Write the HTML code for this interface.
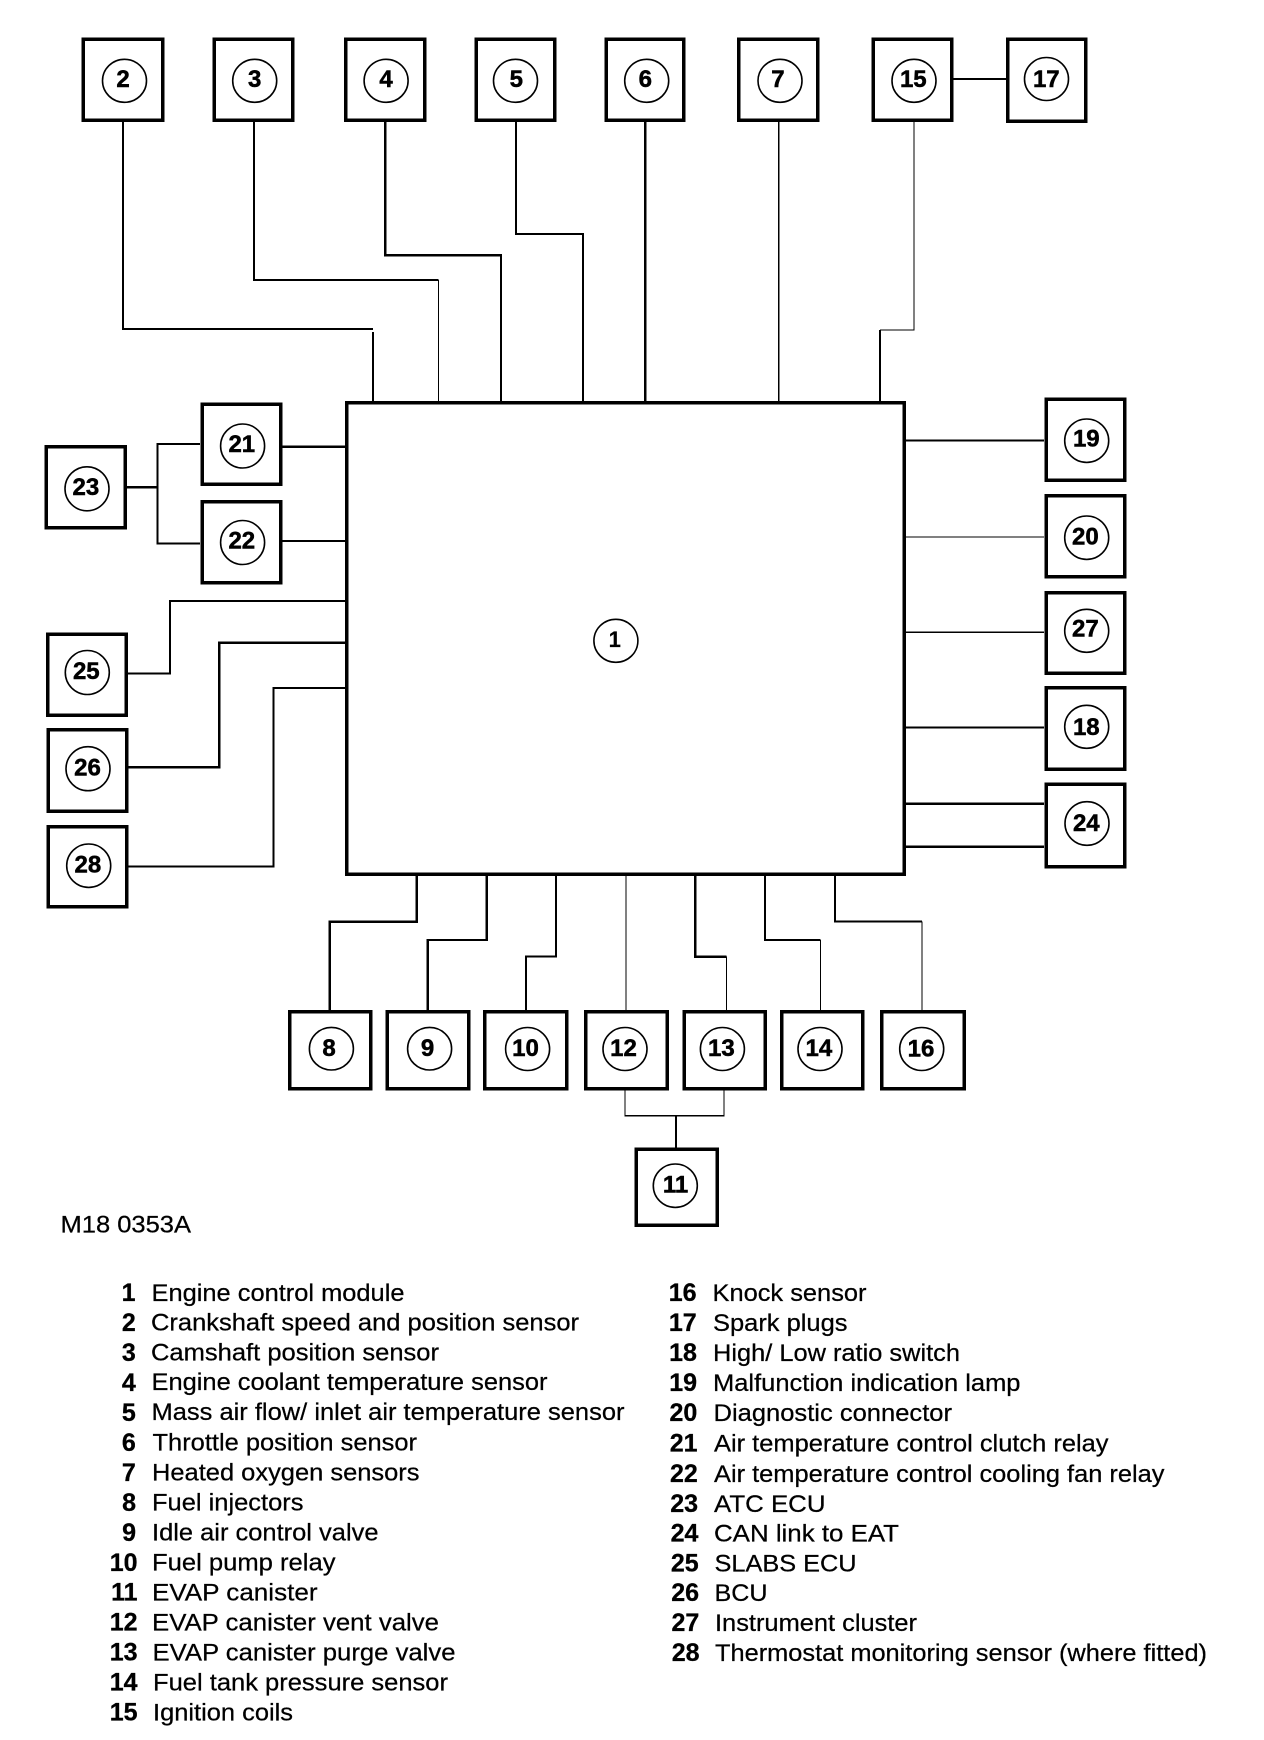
<!DOCTYPE html>
<html>
<head>
<meta charset="utf-8">
<style>
html,body{margin:0;padding:0;background:#fff}
svg{display:block}
.b{fill:#fff;stroke:#000;stroke-width:3.5;shape-rendering:crispEdges}
.c{fill:#fff;stroke:#000;stroke-width:1.6}
.l{fill:none;stroke:#000;stroke-width:2;shape-rendering:crispEdges}
.t{fill:none;stroke:#000;stroke-width:1.3;shape-rendering:crispEdges}
.h{fill:none;stroke:#000;stroke-width:2.4;shape-rendering:crispEdges}
.n{font:bold 24px "Liberation Sans",sans-serif;text-anchor:middle;fill:#000;stroke:#000;stroke-width:.5}
.k{font:bold 25px "Liberation Sans",sans-serif;text-anchor:end;fill:#000;stroke:#000;stroke-width:.3}
.d{font:24px "Liberation Sans",sans-serif;fill:#000;stroke:#000;stroke-width:.25}
</style>
</head>
<body>
<svg width="1264" height="1740" viewBox="0 0 1264 1740" xmlns="http://www.w3.org/2000/svg">
<rect width="1264" height="1740" fill="#fff"/>

<!-- connectors -->
<polyline class="l" points="123,121 123,329 373,329"/>
<polyline class="l" points="373,332 373,402"/>
<polyline class="l" points="254,121 254,280 438.5,280"/>
<polyline class="t" points="438.5,280 438.5,402"/>
<polyline class="h" points="385.3,121 385.3,255.3 501,255.3 501,402"/>
<polyline class="l" points="516,121 516,234 583.2,234 583.2,402"/>
<polyline class="h" points="645.3,121 645.3,402"/>
<polyline class="t" points="778.7,121 778.7,402"/>
<polyline class="t" points="914,121 914,330 880,330"/>
<polyline class="l" points="880,330 880,402"/>
<polyline class="l" points="953,79 1006,79"/>

<polyline class="l" points="200,444 157.6,444 157.6,543.7 200,543.7"/>
<polyline class="h" points="127,487.3 157.6,487.3"/>
<polyline class="h" points="282,446.7 346,446.7"/>
<polyline class="l" points="282,541 346,541"/>
<polyline class="l" points="127.5,673.3 170,673.3 170,601 346,601"/>
<polyline class="h" points="128,767.3 219.3,767.3 219.3,642.7 346,642.7"/>
<polyline class="l" points="128,866.7 273.7,866.7 273.7,688 346,688"/>

<polyline class="l" points="905,440.7 1044,440.7"/>
<polyline class="t" points="905,537 1044,537"/>
<polyline class="t" points="905,632.3 1044,632.3"/>
<polyline class="l" points="905,727.7 1044,727.7"/>
<polyline class="h" points="905,803.7 1044,803.7"/>
<polyline class="h" points="905,846.7 1044,846.7"/>

<polyline class="h" points="416.8,875 416.8,921.7 329.6,921.7 329.6,1011"/>
<polyline class="h" points="486.7,875 486.7,940 427.6,940 427.6,1011"/>
<polyline class="l" points="556,875 556,956.7 526,956.7 526,1011"/>
<polyline class="t" points="626,875 626,1011"/>
<polyline class="h" points="695.4,875 695.4,956.7 726.5,956.7"/>
<polyline class="t" points="726.5,956.7 726.5,1011"/>
<polyline class="l" points="764.8,875 764.8,940 820.4,940"/>
<polyline class="t" points="820.4,940 820.4,1011"/>
<polyline class="l" points="835.2,875 835.2,921.7 922,921.7"/>
<polyline class="t" points="922,921.7 922,1011"/>
<polyline class="t" points="625,1090 625,1115.7 724,1115.7 724,1090"/>
<polyline class="l" points="676,1115.7 676,1148"/>

<!-- main box -->
<rect class="b" x="346.8" y="402.7" width="557.4" height="471.5" style="fill:none"/>
<ellipse class="c" cx="615.9" cy="640.8" rx="22" ry="21.5"/>
<text class="n" x="614.7" y="647" style="font-size:22px;stroke-width:.2">1</text>

<!-- top row -->
<rect class="b" x="83.1" y="39" width="79.6" height="81"/>
<ellipse class="c" cx="124.5" cy="80.8" rx="22" ry="21.5"/>
<text class="n" x="123" y="87">2</text>
<rect class="b" x="214.1" y="39" width="78.8" height="81"/>
<ellipse class="c" cx="254.7" cy="80.8" rx="22" ry="21.5"/>
<text class="n" x="254.7" y="87">3</text>
<rect class="b" x="345.5" y="39" width="79.2" height="81"/>
<ellipse class="c" cx="386.1" cy="80.8" rx="22" ry="21.5"/>
<text class="n" x="386.1" y="87">4</text>
<rect class="b" x="476.1" y="39" width="78.8" height="81"/>
<ellipse class="c" cx="515.5" cy="80.8" rx="22" ry="21.5"/>
<text class="n" x="516.3" y="87">5</text>
<rect class="b" x="606.3" y="39" width="77.6" height="81"/>
<ellipse class="c" cx="646.7" cy="80.8" rx="22" ry="21.5"/>
<text class="n" x="645.3" y="87">6</text>
<rect class="b" x="738.5" y="39" width="79.2" height="81"/>
<ellipse class="c" cx="780" cy="80.8" rx="22" ry="21.5"/>
<text class="n" x="777.9" y="87">7</text>
<rect class="b" x="873.1" y="39" width="78.8" height="81"/>
<ellipse class="c" cx="914" cy="80.8" rx="22" ry="21.5"/>
<text class="n" x="913.3" y="87">15</text>
<rect class="b" x="1007.7" y="39" width="78.1" height="82"/>
<ellipse class="c" cx="1046.5" cy="79" rx="22" ry="21.5"/>
<text class="n" x="1046.3" y="87">17</text>

<!-- left -->
<rect class="b" x="202" y="404" width="78.8" height="80.3"/>
<ellipse class="c" cx="242.6" cy="446" rx="22" ry="22"/>
<text class="n" x="241.8" y="452">21</text>
<rect class="b" x="202" y="501.7" width="78.8" height="80.9"/>
<ellipse class="c" cx="242.6" cy="542.5" rx="22" ry="22"/>
<text class="n" x="241.8" y="548.7">22</text>
<rect class="b" x="46" y="446.7" width="79.3" height="80.9"/>
<ellipse class="c" cx="87" cy="488.8" rx="22" ry="22"/>
<text class="n" x="85.9" y="495">23</text>
<rect class="b" x="47.7" y="634" width="78.4" height="81"/>
<ellipse class="c" cx="87.3" cy="672.5" rx="22" ry="22"/>
<text class="n" x="86.3" y="679">25</text>
<rect class="b" x="48.1" y="729.7" width="78.8" height="81.3"/>
<ellipse class="c" cx="88" cy="768.7" rx="22" ry="22"/>
<text class="n" x="87.5" y="775.7">26</text>
<rect class="b" x="48.1" y="826.7" width="78.8" height="80"/>
<ellipse class="c" cx="88.7" cy="865.7" rx="22" ry="21.7"/>
<text class="n" x="87.9" y="872.7">28</text>

<!-- right -->
<rect class="b" x="1046" y="399" width="78.9" height="81.3"/>
<ellipse class="c" cx="1086.7" cy="440.7" rx="22" ry="21.7"/>
<text class="n" x="1086.3" y="446.7">19</text>
<rect class="b" x="1046" y="495.7" width="78.9" height="80.9"/>
<ellipse class="c" cx="1086.7" cy="537.7" rx="22" ry="21.7"/>
<text class="n" x="1085.4" y="544.7">20</text>
<rect class="b" x="1046" y="592.7" width="78.9" height="80.3"/>
<ellipse class="c" cx="1086.7" cy="630.8" rx="22" ry="21.5"/>
<text class="n" x="1085.4" y="636.7">27</text>
<rect class="b" x="1046" y="687.7" width="78.9" height="81.3"/>
<ellipse class="c" cx="1086.7" cy="726.8" rx="22" ry="21.5"/>
<text class="n" x="1086.3" y="735">18</text>
<rect class="b" x="1046" y="784.4" width="78.9" height="82.2"/>
<ellipse class="c" cx="1087" cy="823.5" rx="22" ry="21.8"/>
<text class="n" x="1086.3" y="831">24</text>

<!-- bottom -->
<rect class="b" x="289.5" y="1011.7" width="81.2" height="76.9"/>
<ellipse class="c" cx="331.4" cy="1048.7" rx="22" ry="21.3"/>
<text class="n" x="329" y="1056">8</text>
<rect class="b" x="387.4" y="1011.7" width="81.3" height="76.9"/>
<ellipse class="c" cx="429.6" cy="1048.7" rx="22" ry="21.3"/>
<text class="n" x="427.5" y="1056">9</text>
<rect class="b" x="484.9" y="1011.7" width="81.8" height="76.9"/>
<ellipse class="c" cx="527.6" cy="1049" rx="22" ry="21.5"/>
<text class="n" x="525.5" y="1056">10</text>
<rect class="b" x="585.9" y="1011.7" width="81.3" height="76.9"/>
<ellipse class="c" cx="625" cy="1049" rx="22" ry="21.5"/>
<text class="n" x="623.5" y="1056">12</text>
<rect class="b" x="684.4" y="1011.7" width="80.7" height="76.9"/>
<ellipse class="c" cx="722.4" cy="1049" rx="22" ry="21.5"/>
<text class="n" x="721.4" y="1056">13</text>
<rect class="b" x="781.7" y="1011.7" width="80.9" height="76.9"/>
<ellipse class="c" cx="820" cy="1049" rx="22" ry="21.5"/>
<text class="n" x="818.9" y="1056">14</text>
<rect class="b" x="881.7" y="1011.7" width="82.4" height="76.9"/>
<ellipse class="c" cx="921.7" cy="1049" rx="22" ry="21.5"/>
<text class="n" x="921" y="1056.5">16</text>
<rect class="b" x="636.4" y="1149" width="80.8" height="76"/>
<ellipse class="c" cx="675.3" cy="1185.7" rx="22" ry="21.7"/>
<text class="n" x="675.5" y="1192.7">11</text>

<!-- reference -->
<text class="d" x="60.5" y="1232.7" textLength="130.5" lengthAdjust="spacingAndGlyphs">M18 0353A</text>

<!-- legend left -->
<text class="k" x="135.5" y="1301">1</text>
<text class="d" x="151.5" y="1301" textLength="253" lengthAdjust="spacingAndGlyphs">Engine control module</text>
<text class="k" x="135.8" y="1331">2</text>
<text class="d" x="151" y="1330.5" textLength="428" lengthAdjust="spacingAndGlyphs">Crankshaft speed and position sensor</text>
<text class="k" x="135.8" y="1361">3</text>
<text class="d" x="151" y="1360.5" textLength="288" lengthAdjust="spacingAndGlyphs">Camshaft position sensor</text>
<text class="k" x="135.8" y="1391">4</text>
<text class="d" x="151.5" y="1390" textLength="396" lengthAdjust="spacingAndGlyphs">Engine coolant temperature sensor</text>
<text class="k" x="135.8" y="1420.8">5</text>
<text class="d" x="151.5" y="1420" textLength="473" lengthAdjust="spacingAndGlyphs">Mass air flow/ inlet air temperature sensor</text>
<text class="k" x="135.8" y="1450.8">6</text>
<text class="d" x="152.5" y="1450.3" textLength="264.5" lengthAdjust="spacingAndGlyphs">Throttle position sensor</text>
<text class="k" x="135.8" y="1480.8">7</text>
<text class="d" x="152" y="1480.3" textLength="267.5" lengthAdjust="spacingAndGlyphs">Heated oxygen sensors</text>
<text class="k" x="136" y="1510.8">8</text>
<text class="d" x="152" y="1510.5" textLength="151.5" lengthAdjust="spacingAndGlyphs">Fuel injectors</text>
<text class="k" x="136" y="1540.8">9</text>
<text class="d" x="152" y="1540.5" textLength="226.5" lengthAdjust="spacingAndGlyphs">Idle air control valve</text>
<text class="k" x="137.5" y="1570.8">10</text>
<text class="d" x="152" y="1570.5" textLength="183.5" lengthAdjust="spacingAndGlyphs">Fuel pump relay</text>
<text class="k" x="137.5" y="1600.5">11</text>
<text class="d" x="152" y="1600.5" textLength="165.5" lengthAdjust="spacingAndGlyphs">EVAP canister</text>
<text class="k" x="137.5" y="1630.5">12</text>
<text class="d" x="152" y="1630.5" textLength="287" lengthAdjust="spacingAndGlyphs">EVAP canister vent valve</text>
<text class="k" x="137.5" y="1660.5">13</text>
<text class="d" x="152.5" y="1660.5" textLength="303" lengthAdjust="spacingAndGlyphs">EVAP canister purge valve</text>
<text class="k" x="137.5" y="1690.5">14</text>
<text class="d" x="153" y="1690.5" textLength="295" lengthAdjust="spacingAndGlyphs">Fuel tank pressure sensor</text>
<text class="k" x="137.5" y="1720.5">15</text>
<text class="d" x="153" y="1720.5" textLength="140" lengthAdjust="spacingAndGlyphs">Ignition coils</text>

<!-- legend right -->
<text class="k" x="696.5" y="1301">16</text>
<text class="d" x="712.5" y="1301" textLength="154" lengthAdjust="spacingAndGlyphs">Knock sensor</text>
<text class="k" x="696.7" y="1331">17</text>
<text class="d" x="713" y="1331" textLength="134.5" lengthAdjust="spacingAndGlyphs">Spark plugs</text>
<text class="k" x="696.9" y="1361">18</text>
<text class="d" x="713" y="1361" textLength="247" lengthAdjust="spacingAndGlyphs">High/ Low ratio switch</text>
<text class="k" x="697.1" y="1391">19</text>
<text class="d" x="713" y="1391" textLength="307.5" lengthAdjust="spacingAndGlyphs">Malfunction indication lamp</text>
<text class="k" x="697.3" y="1421">20</text>
<text class="d" x="713.5" y="1421" textLength="238.5" lengthAdjust="spacingAndGlyphs">Diagnostic connector</text>
<text class="k" x="697.5" y="1451.5">21</text>
<text class="d" x="714" y="1451.5" textLength="394.5" lengthAdjust="spacingAndGlyphs">Air temperature control clutch relay</text>
<text class="k" x="697.8" y="1482">22</text>
<text class="d" x="714" y="1482" textLength="450.5" lengthAdjust="spacingAndGlyphs">Air temperature control cooling fan relay</text>
<text class="k" x="698.1" y="1512">23</text>
<text class="d" x="714" y="1512" textLength="111.5" lengthAdjust="spacingAndGlyphs">ATC ECU</text>
<text class="k" x="698.4" y="1541.5">24</text>
<text class="d" x="714" y="1541.5" textLength="185" lengthAdjust="spacingAndGlyphs">CAN link to EAT</text>
<text class="k" x="698.7" y="1571.5">25</text>
<text class="d" x="714.5" y="1571.5" textLength="142" lengthAdjust="spacingAndGlyphs">SLABS ECU</text>
<text class="k" x="699" y="1601">26</text>
<text class="d" x="714.5" y="1601" textLength="53" lengthAdjust="spacingAndGlyphs">BCU</text>
<text class="k" x="699.3" y="1631">27</text>
<text class="d" x="715" y="1631" textLength="202" lengthAdjust="spacingAndGlyphs">Instrument cluster</text>
<text class="k" x="699.5" y="1661">28</text>
<text class="d" x="715" y="1661" textLength="492" lengthAdjust="spacingAndGlyphs">Thermostat monitoring sensor (where fitted)</text>
</svg>
</body>
</html>
